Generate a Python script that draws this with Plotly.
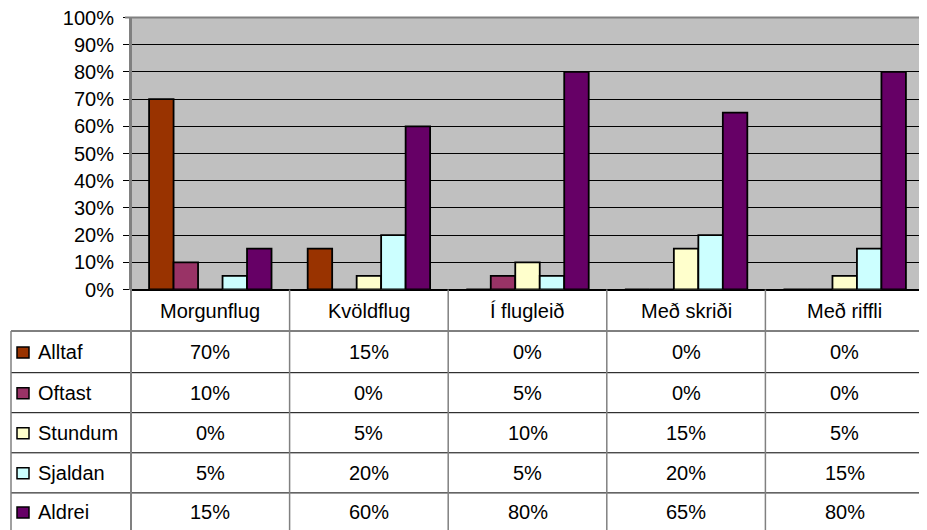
import plotly.graph_objects as go

categories = ["Morgunflug", "Kvöldflug", "Í flugleið", "Með skriði", "Með riffli"]
series_names = ["Alltaf", "Oftast", "Stundum", "Sjaldan", "Aldrei"]
alltaf = [70, 15, 0, 0, 0]
oftast = [10, 0, 5, 0, 0]
stundum = [0, 5, 10, 15, 5]
sjaldan = [5, 20, 5, 20, 15]
aldrei = [15, 60, 80, 65, 80]
series_values = [alltaf, oftast, stundum, sjaldan, aldrei]
colors = ["#993300", "#993366", "#FFFFCC", "#CCFFFF", "#660066"]
y_ticks = [i / 10 for i in range(11)]

W, H = 927, 530
OFF = 8  # page body margin
FONT = "Liberation Sans, Arial, sans-serif"
FS = 20


def px(x):
    return (x - OFF) / W


def py(y):
    return 1 - (y - OFF) / H


plot_l, plot_r, plot_t, plot_b = 131, 924, 17.5, 289.5
row_lines = [331, 372.7, 412.7, 452.8, 492.9]
row_centers = [352, 392.7, 432.8, 472.8, 512]
header_center = 311
bottom = 540

fig = go.Figure()
for name, vals, col in zip(series_names, series_values, colors):
    fig.add_trace(go.Bar(
        x=categories, y=[v / 100 for v in vals], name=name,
        marker=dict(color=col, line=dict(color="black", width=1.8)),
        showlegend=False,
    ))

shapes = []
# horizontal table lines (black)
for yl in row_lines:
    shapes.append(dict(type="line", xref="paper", yref="paper",
                       x0=px(11), x1=px(plot_r), y0=py(yl), y1=py(yl),
                       line=dict(color="black", width=1)))
# vertical table lines (gray)
shapes.append(dict(type="line", xref="paper", yref="paper",
                   x0=px(11), x1=px(11), y0=py(331), y1=py(bottom),
                   line=dict(color="#808080", width=1.5)))
for i in range(len(categories) + 1):
    xv = plot_l + (plot_r - plot_l) * i / len(categories)
    y_top = plot_t if i in (0, len(categories)) else plot_b
    shapes.append(dict(type="line", xref="paper", yref="paper",
                       x0=px(xv), x1=px(xv), y0=py(y_top), y1=py(bottom),
                       line=dict(color="#808080", width=2 if i in (0, len(categories)) else 1.5)))
# plot area top border (gray)
shapes.append(dict(type="line", xref="paper", yref="paper", layer="above",
                   x0=px(plot_l - 6), x1=px(plot_r), y0=py(plot_t), y1=py(plot_t),
                   line=dict(color="#808080", width=2)))
# legend swatches
for yc, col in zip(row_centers, colors):
    shapes.append(dict(type="rect", xref="paper", yref="paper",
                       x0=px(17), x1=px(29), y0=py(yc - 5), y1=py(yc + 6),
                       fillcolor=col, line=dict(color="black", width=1.5)))

annotations = []
for c in categories:
    annotations.append(dict(x=c, xref="x", y=py(header_center), yref="paper",
                            text=c, showarrow=False, xanchor="center", yanchor="middle",
                            font=dict(family=FONT, size=FS, color="black")))
for name, vals, yc in zip(series_names, series_values, row_centers):
    annotations.append(dict(x=px(36), xref="paper", y=py(yc), yref="paper",
                            text=name, showarrow=False, xanchor="left", yanchor="middle",
                            font=dict(family=FONT, size=FS, color="black")))
    for c, v in zip(categories, vals):
        annotations.append(dict(x=c, xref="x", y=py(yc), yref="paper",
                                text=f"{v}%", showarrow=False,
                                xanchor="center", yanchor="middle",
                                font=dict(family=FONT, size=FS, color="black")))

fig.update_layout(
    template="none",
    width=W, height=H,
    margin=dict(l=0, r=0, t=0, b=0, pad=0, autoexpand=False),
    paper_bgcolor="white",
    plot_bgcolor="#C0C0C0",
    barmode="group",
    bargap=0.228,
    bargroupgap=0,
    font=dict(family=FONT, size=FS, color="black"),
    xaxis=dict(domain=[px(plot_l), px(plot_r)], range=[-0.5, 4.5],
               automargin=False,
               showticklabels=False, showgrid=False, zeroline=False,
               showline=False, ticks=""),
    yaxis=dict(domain=[py(plot_b), py(plot_t)], range=[0, 1],
               automargin=False,
               tickvals=y_ticks, tickformat=".0%",
               ticklabeloverflow="allow",
               showgrid=True, gridcolor="black", gridwidth=1,
               zeroline=True, zerolinecolor="black", zerolinewidth=1.5,
               showline=True, linecolor="#808080", linewidth=2,
               ticks="outside", ticklen=6, tickcolor="black", tickwidth=1,
               ticklabelstandoff=5,
               tickfont=dict(family=FONT, size=FS, color="black")),
    shapes=shapes,
    annotations=annotations,
)

fig.write_html("out.html")
